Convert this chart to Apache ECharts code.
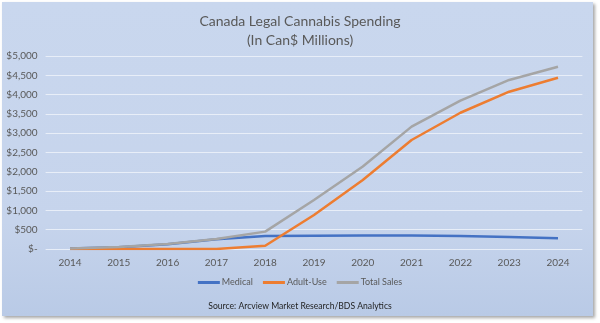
<!DOCTYPE html>
<html><head><meta charset="utf-8">
<script src="https://cdn.jsdelivr.net/npm/echarts@6/dist/echarts.min.js"></script>
<style>
html,body{margin:0;padding:0;background:#fff;}
#wrap{position:absolute;left:2px;top:2px;width:591px;height:314px;background:linear-gradient(to bottom,#c9d7ee 0%,#c6d4ec 70%,#b9cae6 100%);box-shadow:2px 2px 3px rgba(0,0,0,0.35);}
#chart{position:absolute;left:0;top:0;width:600px;height:323px;}
</style></head>
<body>
<div id="wrap"></div>
<div id="chart"></div>
<script>
const years = ['2014','2015','2016','2017','2018','2019','2020','2021','2022','2023','2024'];
const medical = [10, 45, 120, 250, 336, 345, 348, 350, 337, 310, 280];
const adultUse = [0, 0, 0, 0, 85, 880, 1787, 2823, 3530, 4075, 4437];
const totalSales = [10, 50, 130, 260, 450, 1270, 2135, 3170, 3845, 4380, 4720];
const yTicks = [0, 500, 1000, 1500, 2000, 2500, 3000, 3500, 4000, 4500, 5000];

const chart = echarts.init(document.getElementById('chart'), null, {renderer:'canvas'});
const font = 'Lato, "Open Sans", sans-serif';
chart.setOption({
  backgroundColor: 'transparent',
  textStyle: {fontFamily: font},
  title: {
    text: 'Canada Legal Cannabis Spending\n(In Can$ Millions)',
    left: 'center', top: 7,
    textStyle: {fontSize: 14, fontWeight: 'normal', color: '#595959', lineHeight: 19, fontFamily: font}
  },
  grid: {left: 45.6, right: 17.6, top: 56, bottom: 74},
  xAxis: {
    type: 'category', data: years, boundaryGap: true,
    axisLine: {show: false}, axisTick: {show: false},
    axisLabel: {color: '#595959', fontSize: 10, margin: 9, fontFamily: font}
  },
  yAxis: {
    type: 'value', min: yTicks[0], max: yTicks[yTicks.length-1], interval: 500,
    axisLine: {show: false}, axisTick: {show: false},
    splitLine: {lineStyle: {color: '#e8eef8', width: 1}},
    axisLabel: {color: '#595959', fontSize: 10, margin: 8, fontFamily: font,
      formatter: v => v === 0 ? '$-' : '$' + v.toLocaleString('en-US')}
  },
  legend: {
    top: 273, left: 'center', itemWidth: 22, itemHeight: 3, itemGap: 10,
    icon: 'rect',
    textStyle: {color: '#595959', fontSize: 9, fontFamily: font, padding: [0, 0, 0, -3]},
    data: ['Medical','Adult-Use','Total Sales']
  },
  graphic: [{
    type: 'text', left: 'center', top: 302,
    style: {text: 'Source: Arcview Market Research/BDS Analytics', fill: '#1f1f1f', fontSize: 8.6, fontFamily: font},
    x: -6
  }],
  series: [
    {name: 'Medical', type: 'line', data: medical, symbol: 'none', lineStyle: {color: '#4472C4', width: 2.5}, itemStyle: {color: '#4472C4'}, z: 2},
    {name: 'Adult-Use', type: 'line', data: adultUse, symbol: 'none', lineStyle: {color: '#ED7D31', width: 2.5}, itemStyle: {color: '#ED7D31'}, z: 3},
    {name: 'Total Sales', type: 'line', data: totalSales, symbol: 'none', lineStyle: {color: '#A5A5A5', width: 2.5}, itemStyle: {color: '#A5A5A5'}, z: 4}
  ]
});
</script>
</body></html>
